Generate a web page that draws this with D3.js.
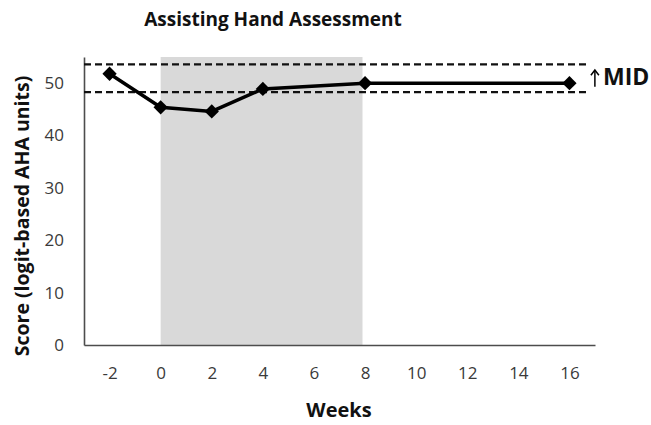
<!DOCTYPE html>
<html>
<head>
<meta charset="utf-8">
<script src="https://cdn.jsdelivr.net/npm/d3@7"></script>
<style>
  body { margin: 0; background: #fff; }
  text { font-family: "Open Sans", sans-serif; }
</style>
</head>
<body>
<script>
// data
const weeks = [-2, 0, 2, 4, 8, 16];
const scores = [51.8, 45.4, 44.6, 48.9, 50, 50];
const xTicks = [-2, 0, 2, 4, 6, 8, 10, 12, 14, 16];
const yTicks = [0, 10, 20, 30, 40, 50];
const midBand = [48.3, 53.6];   // dashed lines
const treatment = [0, 7.9];     // grey shaded period

const svg = d3.select('body').append('svg')
  .attr('width', 651)
  .attr('height', 425);

// scales
const x = d3.scaleLinear().domain([-3, 17]).range([84, 595]);
const y = d3.scaleLinear().domain([0, 55]).range([345, 57]);

// shaded period
svg.append('rect')
  .attr('x', x(treatment[0]))
  .attr('y', y(55))
  .attr('width', x(treatment[1]) - x(treatment[0]))
  .attr('height', y(0) - y(55))
  .attr('fill', '#d9d9d9');

// axes
const xaxis = d3.axisBottom(x).tickValues(xTicks).tickSize(0).tickPadding(22)
  .tickFormat(d => String(d));
const yaxis = d3.axisLeft(y).tickValues(yTicks).tickSize(0).tickPadding(20);

const gx = svg.append('g').attr('transform', `translate(0,${y(0)})`).call(xaxis);
const gy = svg.append('g').attr('transform', `translate(${x(-3)},0)`).call(yaxis);

[gx, gy].forEach(g => {
  g.select('.domain').attr('stroke', '#4d4d4d').attr('stroke-width', 1.6);
  g.selectAll('text')
    .attr('font-family', '"Open Sans", sans-serif')
    .attr('font-size', 17)
    .attr('fill', '#3a3a3a');
});

// MID dashed lines
svg.selectAll('line.mid').data(midBand).join('line')
  .attr('class', 'mid')
  .attr('x1', x(-3))
  .attr('x2', x(16.8))
  .attr('y1', d => y(d))
  .attr('y2', d => y(d))
  .attr('stroke', '#111')
  .attr('stroke-width', 2.2)
  .attr('stroke-dasharray', '7,4');

// line + markers
const line = d3.line().x((d, i) => x(weeks[i])).y(d => y(d));
svg.append('path')
  .datum(scores)
  .attr('d', line)
  .attr('fill', 'none')
  .attr('stroke', '#000')
  .attr('stroke-width', 3.5);

svg.selectAll('path.pt').data(scores).join('path')
  .attr('class', 'pt')
  .attr('transform', (d, i) => `translate(${x(weeks[i])},${y(d)})`)
  .attr('d', d3.symbol(d3.symbolDiamond2, 130))
  .attr('fill', '#000');

// MID arrow + label
const ax = x(16.8) + 5;
svg.append('line')
  .attr('x1', ax).attr('x2', ax)
  .attr('y1', y(49.3)).attr('y2', y(52.4))
  .attr('stroke', '#000').attr('stroke-width', 1.5);
svg.append('path')
  .attr('d', `M${ax - 4},${y(51.5)} L${ax},${y(52.5)} L${ax + 4},${y(51.5)}`)
  .attr('fill', 'none').attr('stroke', '#000').attr('stroke-width', 1.5);
svg.append('text')
  .attr('x', 603).attr('y', 85)
  .attr('font-size', 23).attr('font-weight', 'bold')
  .attr('fill', '#111')
  .text('MID');

// titles
svg.append('text')
  .attr('x', 273).attr('y', 26)
  .attr('text-anchor', 'middle')
  .attr('font-size', 19).attr('font-weight', 'bold')
  .attr('fill', '#111')
  .text('Assisting Hand Assessment');

svg.append('text')
  .attr('x', 339).attr('y', 417)
  .attr('text-anchor', 'middle')
  .attr('font-size', 20).attr('font-weight', 'bold')
  .attr('fill', '#111')
  .text('Weeks');

svg.append('text')
  .attr('transform', 'translate(29,216) rotate(-90)')
  .attr('text-anchor', 'middle')
  .attr('font-size', 19.5).attr('font-weight', 'bold')
  .attr('fill', '#111')
  .text('Score (logit-based AHA units)');
</script>
</body>
</html>
